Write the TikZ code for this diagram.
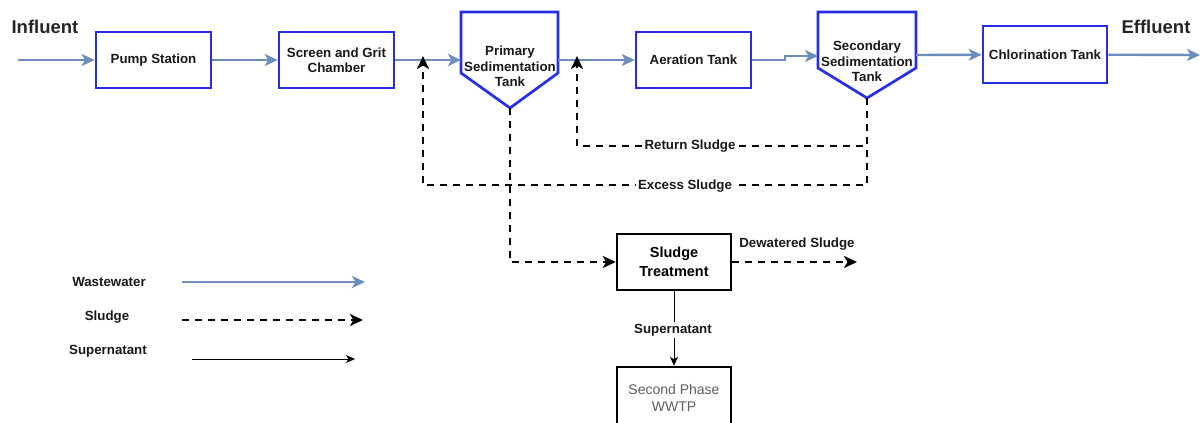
\documentclass[tikz,border=0pt]{standalone}
\usepackage{fontspec}
\setmainfont{Liberation Sans}
\usetikzlibrary{arrows.meta}
\definecolor{flow}{HTML}{6C8EBF}
\definecolor{tankblue}{RGB}{38,46,232}
\definecolor{txtgray}{RGB}{95,95,95}
\begin{document}
\begin{tikzpicture}[x=1pt,y=-1pt,
  lbl/.style={font=\bfseries\fontsize{13.3}{15.5}\selectfont, align=center, inner sep=1pt, text=black!90},
  biglbl/.style={font=\bfseries\fontsize{18.5}{20}\selectfont, inner sep=0pt, text=black!85},
  linelbl/.style={lbl, fill=white, inner sep=2pt},
  tank/.style={draw=tankblue, line width=2.7pt, fill=white, line join=miter},
  bluebox/.style={tank, lbl, minimum width=115pt, minimum height=56pt},
  blackbox/.style={draw=black, line width=2.5pt, fill=white, align=center, minimum width=114pt, minimum height=56pt},
  flowline/.style={draw=flow, line width=2.4pt, -{Stealth[length=13pt,width=12pt,inset=3.5pt]}},
  sludge/.style={draw=black, line width=2.4pt, dash pattern=on 7pt off 6pt, -{Stealth[length=13pt,width=12pt,inset=3.5pt]}},
  superline/.style={draw=black, line width=1pt, -{Stealth[length=9pt,width=8pt,inset=2.5pt]}}
]
\useasboundingbox (0,0) rectangle (1200,423);
\clip (0,0) rectangle (1200,423);
\fill[white] (0,0) rectangle (1200,423);

% top row
\node[biglbl] (infl) at (45,27) {Influent};
\node[biglbl] (effl) at (1156,27) {Effluent};
\coordinate (instart) at (18,60);
\node[bluebox] (pump) at (153.5,60) {Pump Station};
\node[bluebox] (screen) at (336.5,60) {Screen and Grit\\Chamber};
\draw[tank] (461,12) -- (558,12) -- (558,73) -- (510,108) -- (461,73) -- cycle;
\node[lbl] (prim) at (510,66.5) {Primary\\Sedimentation\\Tank};
\coordinate (primin) at (461,60);
\coordinate (primout) at (558,60);
\coordinate (primtip) at (510,108);
\node[bluebox] (aer) at (693.5,60) {Aeration Tank};
\draw[tank] (818,12) -- (916,12) -- (916,68) -- (867,98) -- (818,68) -- cycle;
\node[lbl] (sec) at (867,61.5) {Secondary\\Sedimentation\\Tank};
\coordinate (secin) at (818,56);
\coordinate (secout) at (916,55);
\coordinate (sectip) at (867,98);
\node[bluebox, minimum width=124pt, minimum height=57pt] (chl) at (1045,54.5) {Chlorination Tank};
\coordinate (outend) at (1200,55);
\coordinate (kinka) at (785,60);
\coordinate (kinkb) at (785,56);

% wastewater flow
\draw[flowline] (instart) -- (pump);
\draw[flowline] (pump) -- (screen);
\draw[flowline] (screen) -- (primin);
\draw[flowline] (primout) -- (aer);
\draw[flowline] (aer) -- (kinka) -- (kinkb) -- (secin);
\draw[flowline] (secout) -- (chl);
\draw[flowline] (chl) -- (outend);

% sludge lines
\coordinate (retcorner) at (867,146);
\coordinate (retleft) at (577,146);
\coordinate (retend) at (577,56);
\coordinate (exccorner) at (867,185);
\coordinate (excleft) at (423,185);
\coordinate (excend) at (423,56);
\coordinate (primdown) at (510,262);
\draw[sludge] (sectip) -- (retcorner) -- (retleft) -- (retend);
\draw[sludge] (sectip) -- (exccorner) -- (excleft) -- (excend);
\node[blackbox, font=\bfseries\fontsize{14.5}{19}\selectfont] (slt) at (674,262) {Sludge\\Treatment};
\draw[sludge] (primtip) -- (primdown) -- (slt);
\node[linelbl] (retlbl) at (690,146) {Return Sludge};
\node[linelbl] (exclbl) at (685,186) {Excess Sludge};
\coordinate (dewend) at (857,262);
\draw[sludge] (slt) -- (dewend);
\node[lbl] (dewlbl) at (797,244) {Dewatered Sludge};

% supernatant
\node[blackbox, minimum height=62pt, text=txtgray, font=\fontsize{14}{17}\selectfont] (wwtp) at (674,398) {Second Phase\\WWTP};
\draw[superline] (slt) -- (wwtp);
\node[linelbl] (suplbl) at (673,330) {Supernatant};

% legend
\node[lbl] (lgw) at (109,282) {Wastewater};
\node[lbl] (lgs) at (107,317) {Sludge};
\node[lbl] (lgp) at (108,351) {Supernatant};
\coordinate (lgwa) at (182,282);
\coordinate (lgwb) at (365,282);
\coordinate (lgsa) at (182,320);
\coordinate (lgsb) at (363,320);
\coordinate (lgpa) at (192,359);
\coordinate (lgpb) at (355,359);
\draw[flowline] (lgwa) -- (lgwb);
\draw[sludge] (lgsa) -- (lgsb);
\draw[superline] (lgpa) -- (lgpb);
\end{tikzpicture}
\end{document}
